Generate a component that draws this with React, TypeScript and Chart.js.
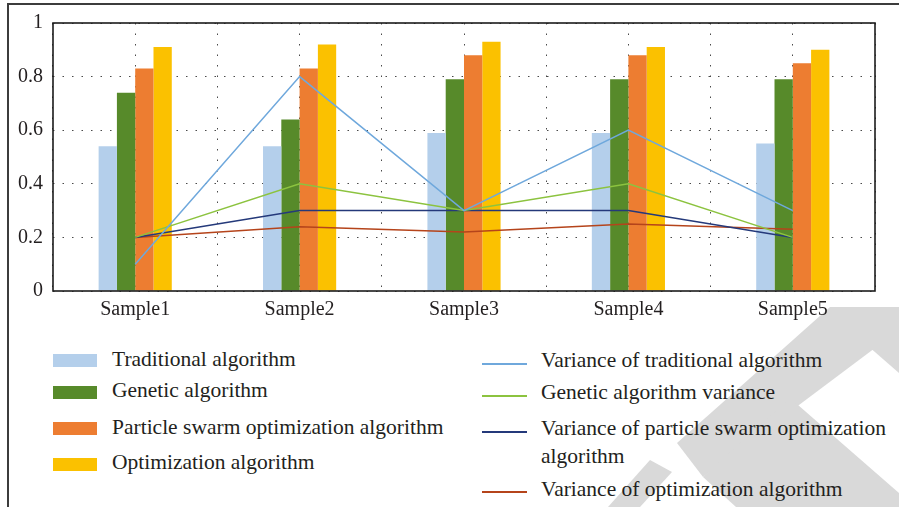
import React, { useEffect, useRef } from "react";
import { Chart, registerables } from "chart.js";

Chart.register(...registerables);

// ---------- data ----------
const categories = ["Sample1", "Sample2", "Sample3", "Sample4", "Sample5"];

const traditional = [0.54, 0.54, 0.59, 0.59, 0.55];
const genetic = [0.74, 0.64, 0.79, 0.79, 0.79];
const particleSwarm = [0.83, 0.83, 0.88, 0.88, 0.85];
const optimization = [0.91, 0.92, 0.93, 0.91, 0.9];

const varTraditional = [0.1, 0.8, 0.3, 0.6, 0.3];
const varGenetic = [0.2, 0.4, 0.3, 0.4, 0.2];
const varParticleSwarm = [0.2, 0.3, 0.3, 0.3, 0.2];
const varOptimization = [0.2, 0.24, 0.22, 0.25, 0.23];

const yTicks = [0, 0.2, 0.4, 0.6, 0.8, 1];
const yTickLabels = ["0", "0.2", "0.4", "0.6", "0.8", "1"];

const barLabels = [
  "Traditional algorithm",
  "Genetic algorithm",
  "Particle swarm optimization algorithm",
  "Optimization algorithm",
];
const lineLabels = [
  "Variance of traditional algorithm",
  "Genetic algorithm variance",
  "Variance of particle swarm optimization algorithm",
  "Variance of optimization algorithm",
];

// ---------- styles ----------
const barColors = ["#b4cfeb", "#578a2a", "#ed7d31", "#fbc100"];
const lineColors = ["#6fa8dc", "#8cc33f", "#24397a", "#b5441b"];
const FONT = "'Liberation Serif', 'Times New Roman', serif";
const TEXT = "#231f20";

// legend layout (page px)
const leftTextTops = [345, 376, 413, 448];
const leftSwatchTops = [354, 386, 422, 457.5];
const rightTextTops = [346, 378, 414, 475];
const rightLineTops = [363.3, 394.7, 430.7, 491.3];

const frame = {
  id: "plotFrame",
  afterDraw(chart: any) {
    const { ctx, chartArea: a } = chart;
    ctx.save();
    ctx.strokeStyle = "#1c1c1c";
    ctx.lineWidth = 1.6;
    ctx.strokeRect(a.left, a.top, a.right - a.left, a.bottom - a.top);
    ctx.restore();
  },
};

export default function App() {
  const ref = useRef<HTMLCanvasElement | null>(null);

  useEffect(() => {
    if (!ref.current) return;
    const barSets = [traditional, genetic, particleSwarm, optimization];
    const lineSets = [varTraditional, varGenetic, varParticleSwarm, varOptimization];
    const datasets: any[] = [];
    lineSets.forEach((d, i) =>
      datasets.push({
        type: "line",
        label: lineLabels[i],
        data: d,
        borderColor: lineColors[i],
        backgroundColor: lineColors[i],
        borderWidth: 1.5,
        pointRadius: 0,
        tension: 0,
        fill: false,
        order: 0,
      })
    );
    barSets.forEach((d, i) =>
      datasets.push({
        type: "bar",
        label: barLabels[i],
        data: d,
        backgroundColor: barColors[i],
        borderWidth: 0,
        barPercentage: 1,
        categoryPercentage: 0.445,
        order: 1,
      })
    );

    const chart = new Chart(ref.current, {
      type: "bar",
      data: { labels: categories, datasets },
      options: {
        animation: false,
        responsive: false,
        maintainAspectRatio: false,
        layout: { padding: { left: 0, right: 24, top: 23, bottom: 0 } },
        plugins: { legend: { display: false }, tooltip: { enabled: false } },
        scales: {
          x: {
            type: "category",
            offset: true,
            grid: {
              offset: true,
              drawTicks: false,
              color: "#4a4a4a",
              lineWidth: 1,
            },
            border: { display: false, dash: [1.5, 9] },
            ticks: {
              padding: 7,
              color: TEXT,
              font: { family: FONT, size: 20 },
              maxRotation: 0,
            },
            afterFit: (s: any) => {
              s.height = 44;
            },
          },
          xc: {
            type: "category",
            labels: categories,
            position: "bottom",
            offset: true,
            grid: {
              offset: false,
              drawTicks: false,
              color: "#4a4a4a",
              lineWidth: 1,
            },
            border: { display: false, dash: [1.5, 9] },
            ticks: { display: false },
            afterFit: (s: any) => {
              s.height = 0;
            },
          },
          y: {
            min: 0,
            max: 1,
            afterBuildTicks: (s: any) => {
              s.ticks = yTicks.map((v) => ({ value: v }));
            },
            grid: { drawTicks: false, color: "#4a4a4a", lineWidth: 1 },
            border: { display: false, dash: [1.5, 8] },
            ticks: {
              padding: 10,
              color: TEXT,
              font: { family: FONT, size: 20 },
              callback: (v: any) => {
                const i = yTicks.indexOf(Number(v));
                return i >= 0 ? yTickLabels[i] : String(v);
              },
            },
            afterFit: (s: any) => {
              s.width = 53;
            },
          },
        },
      },
      plugins: [frame],
    } as any);
    return () => chart.destroy();
  }, []);

  const textStyle = (left: number, top: number, width: number): React.CSSProperties => ({
    position: "absolute",
    left,
    top,
    width,
    fontFamily: FONT,
    fontSize: 21.5,
    lineHeight: "28px",
    color: TEXT,
    whiteSpace: "normal",
  });

  return (
    <div
      style={{
        position: "absolute",
        left: 0,
        top: 0,
        width: 899,
        height: 507,
        overflow: "hidden",
        background: "#fff",
      }}
    >
      <svg
        width={899}
        height={507}
        style={{ position: "absolute", left: 0, top: 0 }}
      >
        <polygon points="830,307 899,307 899,330 703,477 677,443" fill="#d9d9d9" />
        <polygon points="896,307 899,307 899,373 860,339" fill="#d9d9d9" />
        <polygon points="790,398 899,493 899,507 736,507 703,477" fill="#d9d9d9" />
        <polygon points="650,460 672,472 640,507 608,507" fill="#d9d9d9" />
      </svg>
      <div style={{ position: "absolute", left: 7, top: 3, width: 2, height: 504, background: "#3c3c3c" }} />
      <div style={{ position: "absolute", left: 7, top: 3, width: 892, height: 2, background: "#3c3c3c" }} />
      <canvas
        ref={ref}
        width={899}
        height={335}
        style={{ position: "absolute", left: 0, top: 0, width: 899, height: 335 }}
      />
      {barLabels.map((l, i) => (
        <React.Fragment key={"b" + i}>
          <div
            style={{
              position: "absolute",
              left: 53,
              top: leftSwatchTops[i],
              width: 44,
              height: 13,
              background: barColors[i],
            }}
          />
          <div style={textStyle(112, leftTextTops[i], 360)}>{l}</div>
        </React.Fragment>
      ))}
      {lineLabels.map((l, i) => (
        <React.Fragment key={"l" + i}>
          <div
            style={{
              position: "absolute",
              left: 482,
              top: rightLineTops[i],
              width: 45,
              height: 2,
              background: lineColors[i],
            }}
          />
          <div style={textStyle(541, rightTextTops[i], 356)}>{l}</div>
        </React.Fragment>
      ))}
    </div>
  );
}
